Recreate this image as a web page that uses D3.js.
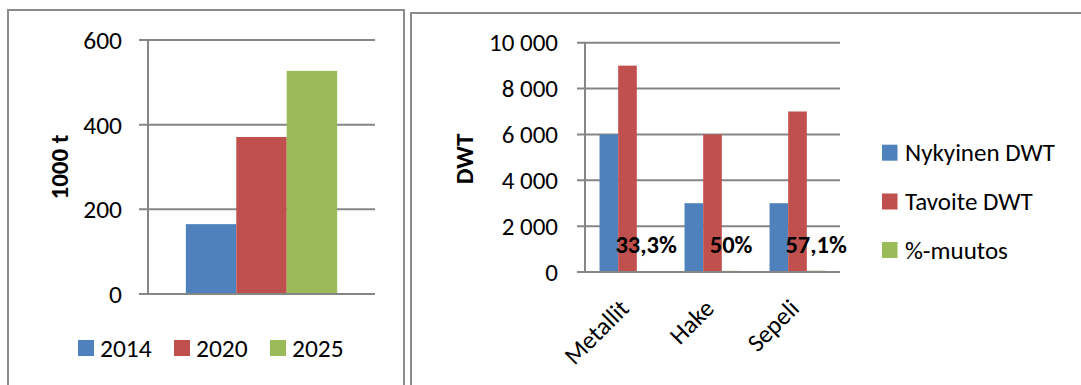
<!DOCTYPE html>
<html>
<head>
<meta charset="utf-8">
<script src="https://cdn.jsdelivr.net/npm/d3@7"></script>
<style>
  html, body { margin: 0; padding: 0; background: #fff; }
  svg { display: block; }
  text { font-family: Carlito, "Liberation Sans", Arial, sans-serif; fill: #000; }
</style>
</head>
<body>
<svg id="chart" width="1081" height="385"></svg>
<script>
// Left chart: volume by year (1000 t)
const years = ["2014", "2020", "2025"];
const volumes = [165, 371, 527];
const volumeTicks = [0, 200, 400, 600];

// Right chart: vessel size by cargo type
const cargoTypes = ["Metallit", "Hake", "Sepeli"];
const seriesNames = ["Nykyinen DWT", "Tavoite DWT", "%-muutos"];
const currentDWT = [6000, 3000, 3000];
const targetDWT = [9000, 6000, 7000];
const changePct = [33.3, 50, 57.1];
const dwtTicks = [0, 2000, 4000, 6000, 8000, 10000];

const colors = ["#4F81BD", "#C0504D", "#9BBB59"];
const gridColor = "#868686";
const frameColor = "#8c8c8c";

const svg = d3.select("#chart");

// Panel frames
svg.append("rect").attr("x", 8).attr("y", 10).attr("width", 396).attr("height", 400)
  .attr("fill", "none").attr("stroke", frameColor).attr("stroke-width", 2);
svg.append("rect").attr("x", 411).attr("y", 13).attr("width", 700).attr("height", 400)
  .attr("fill", "none").attr("stroke", frameColor).attr("stroke-width", 2);

const fmtSpace = v => d3.format(",")(v).replace(/,/g, "\u00a0");

// ---------- Left chart ----------
{
  const x0 = 148, x1 = 375, yTop = 40, yBot = 294;
  const y = d3.scaleLinear().domain([0, 600]).range([yBot, yTop]);
  const xBand = d3.scaleBand().domain(["all"]).range([x0, x1]).paddingInner(0).paddingOuter(0.25);
  const xSub = d3.scaleBand().domain(years).range([xBand("all"), xBand("all") + xBand.bandwidth()]);

  const g = svg.append("g");
  g.selectAll("line.grid").data(volumeTicks).join("line")
    .attr("x1", x0 - 9).attr("x2", x1)
    .attr("y1", d => y(d)).attr("y2", d => y(d))
    .attr("stroke", gridColor).attr("stroke-width", 2);
  g.selectAll("rect.bar").data(years).join("rect")
    .attr("x", d => xSub(d)).attr("width", xSub.bandwidth())
    .attr("y", (d, i) => y(volumes[i])).attr("height", (d, i) => yBot - y(volumes[i]))
    .attr("fill", (d, i) => colors[i]);
  g.append("line").attr("x1", x0).attr("x2", x0).attr("y1", yTop).attr("y2", yBot)
    .attr("stroke", gridColor).attr("stroke-width", 2);
  g.append("line").attr("x1", x0 - 9).attr("x2", x1).attr("y1", yBot).attr("y2", yBot)
    .attr("stroke", gridColor).attr("stroke-width", 2);
  g.selectAll("text.tick").data(volumeTicks).join("text")
    .attr("x", 122).attr("y", d => y(d)).attr("dy", "0.35em")
    .attr("text-anchor", "end").attr("font-size", 25.5).text(d => d);
  g.append("text").attr("transform", "translate(68,167) rotate(-90)")
    .attr("text-anchor", "middle").attr("font-size", 25).attr("font-weight", "bold").text("1000 t");
  const legX = [78, 174, 270];
  const lg = g.selectAll("g.leg").data(years).join("g")
    .attr("transform", (d, i) => `translate(${legX[i]},348)`);
  lg.append("rect").attr("x", 0).attr("y", -8).attr("width", 16).attr("height", 16)
    .attr("fill", (d, i) => colors[i]);
  lg.append("text").attr("x", 22).attr("dy", "0.35em").attr("font-size", 25.5).text(d => d);
}

// ---------- Right chart ----------
{
  const x0 = 585, x1 = 840, yTop = 42.7, yBot = 272;
  const y = d3.scaleLinear().domain([0, 10000]).range([yBot, yTop]);
  const xCat = d3.scaleBand().domain(cargoTypes).range([x0, x1]).paddingInner(0).paddingOuter(0);
  const xSub = d3.scaleBand().domain(seriesNames).range([0, xCat.bandwidth()])
    .paddingInner(0).paddingOuter(0.78);
  const series = [currentDWT, targetDWT, changePct];

  const g = svg.append("g");
  g.selectAll("line.grid").data(dwtTicks).join("line")
    .attr("x1", x0 - 8).attr("x2", x1)
    .attr("y1", d => y(d)).attr("y2", d => y(d))
    .attr("stroke", gridColor).attr("stroke-width", 2);

  const cat = g.selectAll("g.cat").data(cargoTypes).join("g")
    .attr("transform", d => `translate(${xCat(d)},0)`);
  seriesNames.forEach((s, si) => {
    cat.append("rect")
      .attr("x", xSub(s)).attr("width", xSub.bandwidth())
      .attr("y", (d, ci) => y(series[si][ci]))
      .attr("height", (d, ci) => yBot - y(series[si][ci]))
      .attr("fill", colors[si]);
  });
  // data labels for the change series
  cat.append("text")
    .attr("x", xSub(seriesNames[2]) + xSub.bandwidth() / 2)
    .attr("y", (d, ci) => y(changePct[ci]) - 18)
    .attr("text-anchor", "middle").attr("font-size", 24.5).attr("font-weight", "bold")
    .text((d, ci) => String(changePct[ci]).replace(".", ",") + "%");

  g.append("line").attr("x1", x0).attr("x2", x0).attr("y1", yTop).attr("y2", yBot)
    .attr("stroke", gridColor).attr("stroke-width", 2);
  g.append("line").attr("x1", x0 - 8).attr("x2", x1).attr("y1", yBot).attr("y2", yBot)
    .attr("stroke", gridColor).attr("stroke-width", 2);

  g.selectAll("text.tick").data(dwtTicks).join("text")
    .attr("x", 558).attr("y", d => y(d)).attr("dy", "0.35em")
    .attr("text-anchor", "end").attr("font-size", 25).text(d => fmtSpace(d));

  // category labels rotated 45°
  g.selectAll("text.cat").data(cargoTypes).join("text")
    .attr("transform", d => `translate(${xCat(d) + xCat.bandwidth() / 2 + 3},${yBot + 38}) rotate(-45)`)
    .attr("text-anchor", "end").attr("font-size", 25).text(d => d);

  g.append("text").attr("transform", "translate(473,159) rotate(-90)")
    .attr("text-anchor", "middle").attr("font-size", 25).attr("font-weight", "bold").text("DWT");

  const legY = [152.7, 201.5, 250];
  const lg = g.selectAll("g.leg").data(seriesNames).join("g")
    .attr("transform", (d, i) => `translate(882,${legY[i]})`);
  lg.append("rect").attr("x", 0).attr("y", -8).attr("width", 15.5).attr("height", 16)
    .attr("fill", (d, i) => colors[i]);
  lg.append("text").attr("x", 23).attr("dy", "0.35em").attr("font-size", 25).text(d => d);
}
</script>
</body>
</html>
